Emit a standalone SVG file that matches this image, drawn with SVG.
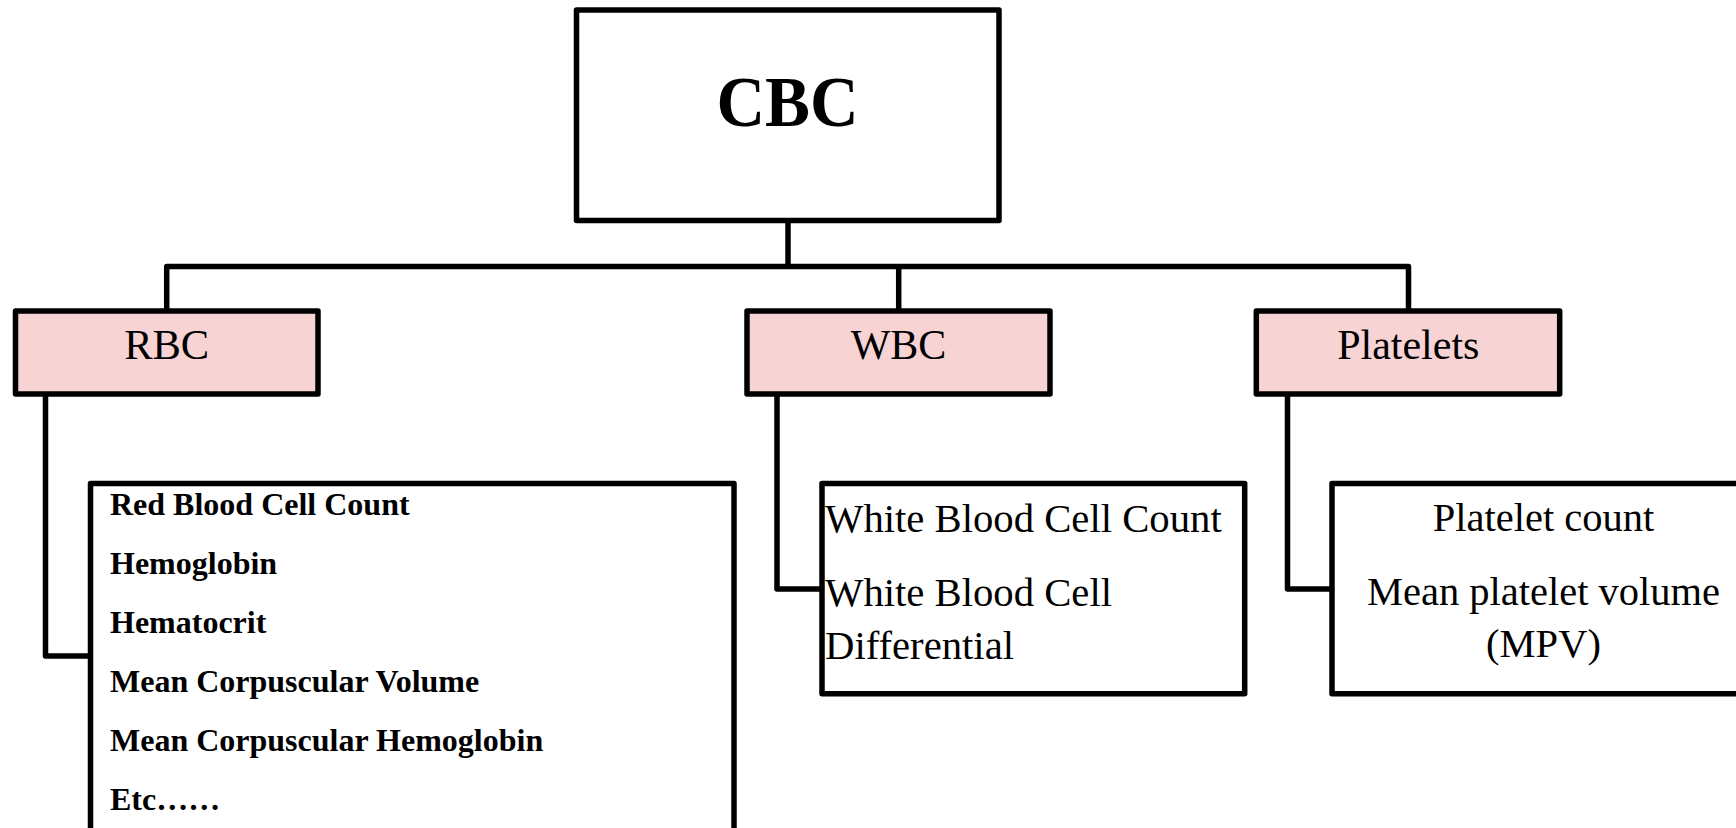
<svg xmlns="http://www.w3.org/2000/svg" width="1736" height="828" viewBox="0 0 1736 828">
<style>
.box{fill:#ffffff;stroke:#000;stroke-width:5.5;stroke-linejoin:round}
.pink{fill:#F7D3D4;stroke:#000;stroke-width:5.5;stroke-linejoin:round}
.conn{fill:none;stroke:#000;stroke-width:5.5;stroke-linejoin:round;stroke-linecap:butt}
.t{font-family:"Liberation Serif","Times New Roman",serif;fill:#000}
.b{font-weight:bold}
</style>
<rect x="0" y="0" width="1736" height="828" fill="#ffffff"/>
<g id="connectors">
<path class="conn" d="M788,220.5 V266.5"/>
<path class="conn" d="M166.7,311 V266.5 H1408.5 V311"/>
<path class="conn" d="M898.7,266.5 V311"/>
<path class="conn" d="M45.5,394 V656 H90.5"/>
<path class="conn" d="M777,394 V589 H822"/>
<path class="conn" d="M1287.5,394 V589 H1332"/>
</g>
<g id="cbc">
<rect class="box" x="576.5" y="10" width="422.5" height="210.5"/>
<text class="t b" x="787.5" y="126" font-size="72" text-anchor="middle" textLength="142" lengthAdjust="spacingAndGlyphs">CBC</text>
</g>
<g id="rbc">
<rect class="pink" x="15.5" y="311" width="302.5" height="83"/>
<text class="t" x="166.7" y="358.5" font-size="42.5" text-anchor="middle">RBC</text>
</g>
<g id="wbc">
<rect class="pink" x="747" y="311" width="303" height="83"/>
<text class="t" x="898.5" y="358.5" font-size="42" text-anchor="middle">WBC</text>
</g>
<g id="platelets">
<rect class="pink" x="1256.3" y="311" width="303.4" height="83"/>
<text class="t" x="1408.3" y="358.5" font-size="42" text-anchor="middle">Platelets</text>
</g>
<g id="rbc-list">
<rect class="box" x="90.5" y="483.5" width="643.5" height="380"/>
<text class="t b" x="110" y="515" font-size="32">Red Blood Cell Count</text>
<text class="t b" x="110" y="574" font-size="32">Hemoglobin</text>
<text class="t b" x="110" y="633" font-size="32">Hematocrit</text>
<text class="t b" x="110" y="692" font-size="32">Mean Corpuscular Volume</text>
<text class="t b" x="110" y="751" font-size="32">Mean Corpuscular Hemoglobin</text>
<text class="t b" x="110" y="810" font-size="32">Etc……</text>
</g>
<g id="wbc-list">
<rect class="box" x="822" y="483.5" width="422.7" height="210.2"/>
<text class="t" x="825" y="531.5" font-size="40.7">White Blood Cell Count</text>
<text class="t" x="825" y="605.5" font-size="40.7">White Blood Cell</text>
<text class="t" x="825" y="658.5" font-size="40.7">Differential</text>
</g>
<g id="platelet-list">
<rect class="box" x="1332" y="483.5" width="440" height="210.2"/>
<text class="t" x="1543.5" y="530.5" font-size="40.5" text-anchor="middle">Platelet count</text>
<text class="t" x="1543.5" y="605" font-size="40.5" text-anchor="middle">Mean platelet volume</text>
<text class="t" x="1543.5" y="657" font-size="40.5" text-anchor="middle">(MPV)</text>
</g>
</svg>
